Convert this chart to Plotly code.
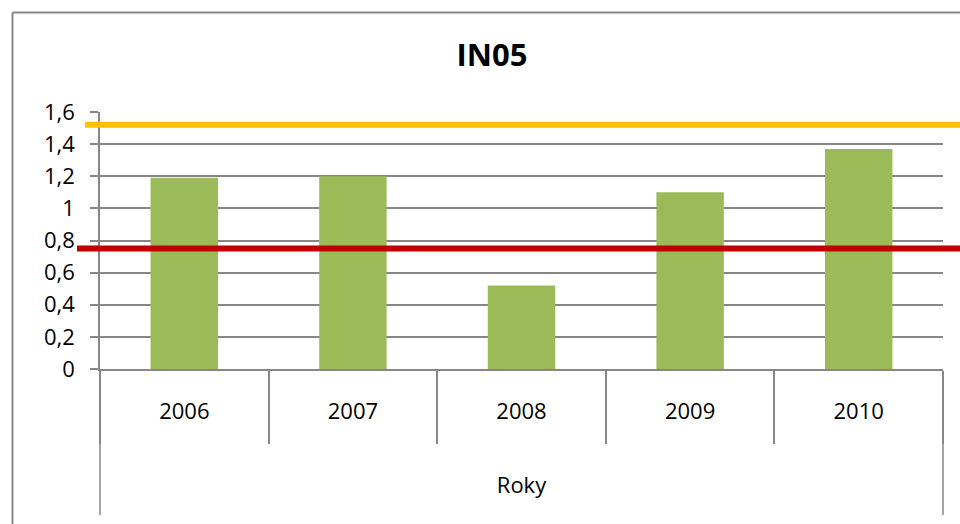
import plotly.graph_objects as go

# ---- data ----
years = ["2006", "2007", "2008", "2009", "2010"]
values = [1.19, 1.20, 0.52, 1.10, 1.37]
upper_limit = 1.52
lower_limit = 0.75
y_ticks = [0, 0.2, 0.4, 0.6, 0.8, 1.0, 1.2, 1.4, 1.6]
title_text = "IN05"
x_title = "Roky"

# ---- layout geometry (pixels) ----
W, H = 960, 524
L, R, T, B = 100, 17, 112, 155
pw = W - L - R
ph = H - T - B
GRAY = "#878787"
FONT = "Open Sans"


def px(x):
    return (x - L) / pw


def py(y):
    return (H - B - y) / ph


fig = go.Figure(
    go.Bar(
        x=years,
        y=values,
        marker_color="#9BBB59",
        marker_line_width=0,
        width=0.4,
        hoverinfo="x+y",
    )
)

shapes = [
    # limit lines
    dict(type="line", xref="paper", yref="y", x0=px(85), x1=px(965),
         y0=upper_limit, y1=upper_limit, line=dict(color="#FFC000", width=6)),
    dict(type="line", xref="paper", yref="y", x0=px(77), x1=px(965),
         y0=lower_limit, y1=lower_limit, line=dict(color="#C00000", width=6)),
    # chart frame
    dict(type="line", xref="paper", yref="paper", x0=px(12.5), x1=px(12.5),
         y0=py(12.5), y1=py(540), line=dict(color=GRAY, width=2)),
    dict(type="line", xref="paper", yref="paper", x0=px(12.5), x1=px(970),
         y0=py(12.5), y1=py(12.5), line=dict(color=GRAY, width=2)),
    # outer category dividers extended
    dict(type="line", xref="paper", yref="paper", x0=0, x1=0,
         y0=py(440), y1=py(515), line=dict(color=GRAY, width=1.5)),
    dict(type="line", xref="paper", yref="paper", x0=1, x1=1,
         y0=py(440), y1=py(515), line=dict(color=GRAY, width=1.5)),
]

fig.update_layout(
    width=W,
    height=H,
    margin=dict(l=L, r=R, t=T, b=B, pad=0),
    paper_bgcolor="white",
    plot_bgcolor="white",
    separators=", ",
    showlegend=False,
    font=dict(family=FONT, size=22, color="black"),
    title=dict(
        text="<b>" + title_text + "</b>",
        font=dict(family=FONT, size=31, color="black"),
        x=492 / W,
        xref="container",
        xanchor="center",
        y=1 - 55 / H,
        yref="container",
        yanchor="middle",
    ),
    bargap=0.6,
    shapes=shapes,
)

fig.update_xaxes(
    type="category",
    showline=True,
    linecolor=GRAY,
    linewidth=1.5,
    ticks="outside",
    tickson="boundaries",
    ticklen=73,
    tickcolor=GRAY,
    tickwidth=1.5,
    showgrid=False,
    tickfont=dict(family=FONT, size=22, color="black"),
    ticklabelstandoff=22,
    title=dict(text=x_title, font=dict(family=FONT, size=22, color="black"), standoff=53),
)

fig.update_yaxes(
    range=[0, 1.6],
    tickvals=y_ticks,
    showline=True,
    linecolor=GRAY,
    linewidth=1.5,
    ticks="outside",
    ticklen=8,
    tickcolor=GRAY,
    tickwidth=1.5,
    showgrid=True,
    gridcolor=GRAY,
    gridwidth=1.5,
    zeroline=False,
    tickfont=dict(family=FONT, size=22, color="black"),
    ticklabelstandoff=11,
)

fig.write_html(
    "out.html",
    config={"displayModeBar": False},
    post_script="document.body.style.margin='0';document.body.style.overflow='hidden';",
)
